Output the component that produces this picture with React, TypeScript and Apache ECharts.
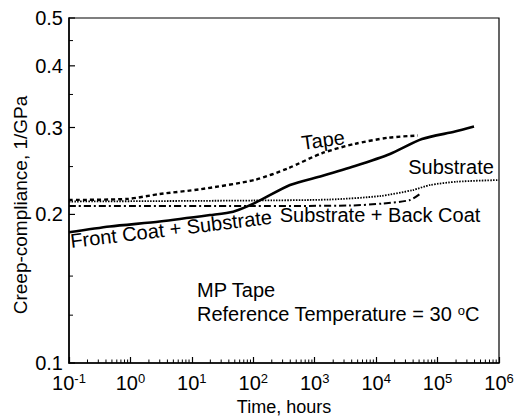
import React, { useEffect, useRef } from "react";
import * as echarts from "echarts";

// ---- Data ----
// Time in hours, creep compliance in 1/GPa
const tapeTime = [0.1, 0.9, 3, 14, 107, 367, 1300, 4500, 15600, 48000];
const tapeComp = [0.214, 0.215, 0.22, 0.225, 0.235, 0.248, 0.266, 0.278, 0.286, 0.289];

const substrateTime = [0.1, 100, 1770, 11600, 39800, 75300, 207000, 1000000];
const substrateComp = [0.2124, 0.2134, 0.2144, 0.2179, 0.2241, 0.2294, 0.233, 0.2348];

const frontTime = [0.1, 0.46, 3, 19.7, 47, 107, 396, 1310, 4530, 16800, 55700, 192000, 392000];
const frontComp = [0.184, 0.189, 0.1935, 0.1994, 0.2026, 0.211, 0.2294, 0.2393, 0.2507, 0.2652, 0.2843, 0.2944, 0.3014];

const backTime = [0.1, 100, 3750, 12900, 35600, 51700];
const backComp = [0.208, 0.208, 0.2085, 0.2104, 0.2139, 0.22];

// ---- Ticks ----
const xDecades = [0.1, 1, 10, 100, 1000, 10000, 100000, 1000000];
const xMinorMultipliers = [2, 3, 4, 5, 6, 7, 8, 9];
const yLabelValues = [0.1, 0.2, 0.3, 0.4, 0.5];
const yMinorTicks = [0.125, 0.15, 0.25, 0.35, 0.45];

const FONT = '"Liberation Sans", Arial, Helvetica, sans-serif';
const X_MIN = 0.1;
const X_MAX = 1000000;
const Y_MIN = 0.1;
const Y_MAX = 0.5;

export default function App() {
  const ref = useRef<HTMLDivElement>(null);

  useEffect(() => {
    if (!ref.current) return;
    const chart = echarts.init(ref.current, null, { renderer: "svg" });

    const pairs = (xs: number[], ys: number[]) => xs.map((x, i) => [x, ys[i]]);
    const xMinor: number[] = [];
    xDecades.slice(0, -1).forEach((d) => xMinorMultipliers.forEach((m) => xMinor.push(+(d * m).toPrecision(6))));

    const lineBase = {
      type: "line",
      showSymbol: false,
      symbol: "none",
      smooth: 0.25,
    };

    const option: any = {
      animation: false,
      backgroundColor: "#ffffff",
      grid: {
        left: 69,
        right: 16,
        top: 18,
        bottom: 53,
        show: true,
        borderColor: "#000",
        borderWidth: 1.2,
        containLabel: false,
        outerBoundsMode: "none",
      },
      xAxis: {
        type: "log",
        logBase: 10,
        min: X_MIN,
        max: X_MAX,
        axisLine: { show: true, lineStyle: { color: "#000", width: 1.5 } },
        axisTick: { show: true, inside: true, length: 6, lineStyle: { color: "#000", width: 1.2 } },
        splitLine: { show: false },
        axisLabel: {
          margin: 9,
          color: "#000",
          fontFamily: FONT,
          formatter: (v: number) => `{b|10}{s|${Math.round(Math.log10(v))}}`,
          rich: {
            b: { fontSize: 20, fontFamily: FONT, color: "#000", lineHeight: 22 },
            s: { fontSize: 13, fontFamily: FONT, color: "#000", verticalAlign: "top", lineHeight: 13 },
          },
        },
        name: "Time, hours",
        nameLocation: "middle",
        nameGap: 32,
        nameTextStyle: { fontSize: 18, lineHeight: 18, fontFamily: FONT, color: "#000" },
      },
      yAxis: {
        type: "log",
        logBase: 10,
        min: Y_MIN,
        max: Y_MAX,
        axisLine: { show: true, lineStyle: { color: "#000", width: 1.5 } },
        axisTick: { show: false },
        splitLine: { show: false },
        axisLabel: { show: false },
      },
      series: [
        {
          ...lineBase,
          name: "Tape",
          data: pairs(tapeTime, tapeComp),
          lineStyle: { color: "#000", width: 2.4, type: [4, 3] },
        },
        {
          ...lineBase,
          name: "Substrate",
          data: pairs(substrateTime, substrateComp),
          lineStyle: { color: "#000", width: 1.8, type: [1.5, 1.3] },
        },
        {
          ...lineBase,
          name: "Front Coat + Substrate",
          data: pairs(frontTime, frontComp),
          lineStyle: { color: "#000", width: 2.6, type: "solid" },
        },
        {
          ...lineBase,
          name: "Substrate + Back Coat",
          data: pairs(backTime, backComp),
          lineStyle: { color: "#000", width: 2, type: [7, 3, 2, 3] },
        },
        // minor ticks of the log time axis
        {
          type: "custom",
          name: "x minor ticks",
          data: xMinor.map((v) => [v, Y_MIN]),
          renderItem: (_p: any, api: any) => {
            const pt = api.coord([api.value(0), Y_MIN]);
            return {
              type: "line",
              shape: { x1: pt[0], y1: pt[1], x2: pt[0], y2: pt[1] - 3.5 },
              style: { stroke: "#000", lineWidth: 1 },
            };
          },
        },
        // major ticks + labels of the compliance axis
        {
          type: "custom",
          name: "y labels",
          data: yLabelValues.map((v) => [X_MIN, v]),
          renderItem: (_p: any, api: any) => {
            const val = api.value(1);
            const pt = api.coord([X_MIN, val]);
            return {
              type: "group",
              children: [
                {
                  type: "line",
                  shape: { x1: pt[0], y1: pt[1], x2: pt[0] + 6, y2: pt[1] },
                  style: { stroke: "#000", lineWidth: 1.2 },
                },
                {
                  type: "text",
                  x: pt[0] - 6,
                  y: pt[1],
                  style: {
                    text: Number(val).toFixed(1),
                    fontSize: 20,
                    fontFamily: FONT,
                    fill: "#000",
                    align: "right",
                    verticalAlign: "middle",
                  },
                },
              ],
            };
          },
        },
        // minor ticks of the compliance axis
        {
          type: "custom",
          name: "y minor ticks",
          data: yMinorTicks.map((v) => [X_MIN, v]),
          renderItem: (_p: any, api: any) => {
            const pt = api.coord([X_MIN, api.value(1)]);
            return {
              type: "line",
              shape: { x1: pt[0], y1: pt[1], x2: pt[0] + 4, y2: pt[1] },
              style: { stroke: "#000", lineWidth: 1 },
            };
          },
        },
      ],
      graphic: [
        {
          type: "text",
          x: 20,
          y: 205,
          rotation: Math.PI / 2,
          style: { text: "Creep-compliance, 1/GPa", fontSize: 19, fontFamily: FONT, fill: "#000", align: "center", verticalAlign: "middle" },
        },
        {
          type: "text",
          x: 323,
          y: 140,
          rotation: 0.14,
          style: { text: "Tape", fontSize: 20, fontFamily: FONT, fill: "#000", align: "center", verticalAlign: "middle" },
        },
        {
          type: "text",
          x: 451,
          y: 167,
          style: { text: "Substrate", fontSize: 20, fontFamily: FONT, fill: "#000", align: "center", verticalAlign: "middle" },
        },
        {
          type: "text",
          x: 171,
          y: 229,
          rotation: 0.12,
          style: { text: "Front Coat + Substrate", fontSize: 20, fontFamily: FONT, fill: "#000", align: "center", verticalAlign: "middle" },
        },
        {
          type: "text",
          x: 380,
          y: 215,
          style: { text: "Substrate + Back Coat", fontSize: 20, fontFamily: FONT, fill: "#000", align: "center", verticalAlign: "middle" },
        },
        {
          type: "text",
          x: 197,
          y: 290,
          style: { text: "MP Tape", fontSize: 20, fontFamily: FONT, fill: "#000", align: "left", verticalAlign: "middle" },
        },
        {
          type: "text",
          x: 197,
          y: 314,
          style: {
            text: "Reference Temperature = 30 {s|o}C",
            fontSize: 20,
            fontFamily: FONT,
            fill: "#000",
            align: "left",
            verticalAlign: "middle",
            rich: { s: { fontSize: 13, fontFamily: FONT, fill: "#000", verticalAlign: "top", lineHeight: 13 } },
          },
        },
      ],
    };

    chart.setOption(option);
    return () => chart.dispose();
  }, []);

  return (
    <div
      ref={ref}
      style={{ position: "absolute", left: 0, top: 0, width: 515, height: 416, background: "#fff" }}
    />
  );
}
